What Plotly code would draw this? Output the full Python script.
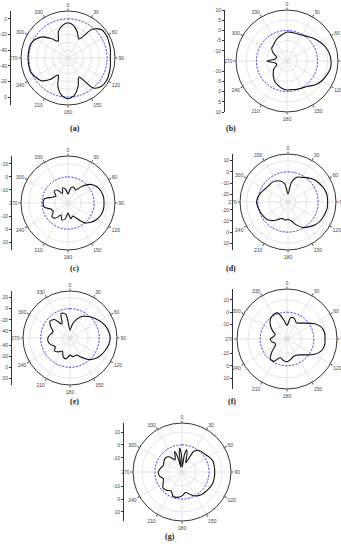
import plotly.graph_objects as go

W, H = 341, 550

# ---------------- data (dB values) ----------------
angles10 = list(range(0, 360, 10))
angle_ticks = list(range(0, 360, 30))
angle_labels = [str(v) for v in angle_ticks]

theta_a = angles10
r_a = [-5, -8, -15, -22, -2, 6, 7, 6, 5, 4, 5, 6, 7, 6, 0, -22, -12, -2,
       2, -2, -12, -25, -14, -5, -2, 1, 1, 1, 1, 1, -2, -8, -18, -25, -14, -8]

theta_b = angles10
r_b = [-0.8, -0.8, -0.8, -0.3, 0.7, 2.2, 3.6, 5.1, 6.1, 6.6, 6.6, 5.6, 4.6, 3.1, 1.2, 0.2, -0.3, -0.8,
       -0.8, -1.3, -2.3, -3.2, -4.7, -6.2, -7.6, -9.6, -9.1, -5.2, -9.1, -9.6, -7.2, -5.2, -4.7, -3.7, -2.7, -1.8]

theta_c = angles10
r_c = [-13.1, -8.5, -7, -8.5, -3.2, 2.2, 5.3, 6.8, 7.6, 7.6, 7.6, 6.8, 5.3, 3, -0.1, -6.2, -9.3, -7.7,
       -12.3, -7.7, -6.2, -9.3, -4.7, -3.9, -7, -6.2, -1.6, -0.9, -1.6, -7, -9.3, -6.2, -7, -11.6, -7.7, -9.3]

theta_d = angles10
r_d = [-19.7, -8.8, -3.4, -1.5, 1.2, 3.9, 5.7, 7.5, 8.5, 8.5, 8.5, 7.5, 6.6, 4.8, 2.1, -0.6, -5.2, -9.7,
       -11.5, -10.6, -11.5, -8.8, -5.2, -2.5, -1.5, -0.6, 0.3, 1.2, 0.3, -1.5, -3.4, -4.3, -4.3, -5.2, -7, -10.6]

theta_e = angles10
r_e = [-38.5, -27.5, -16.6, -7.5, -2.1, 3.4, 8.8, 14.3, 17.9, 19.7, 17.9, 14.3, 10.6, 5.2, -2.1, -13, -20.3, -18.5,
       -22.1, -14.8, -16.6, -25.7, -20.3, -16.6, -22.1, -16.6, -13, -13, -16.6, -20.3, -13, -5.7, -9.4, -23.9, -5.7, -9.4]

theta_f = angles10
r_f = [-10.8, -4.2, -4.2, -6.7, -5, -1.7, 3.3, 7.5, 9.2, 9.2, 9.2, 7.5, 3.3, -1.7, -5, -6.7, -6.7, -5,
       -3.3, -4.2, -5.8, -0.8, -0.8, -5.8, -10.8, -11.7, -9.2, -8.3, -10.8, -11.7, -8.3, -4.2, -0.8, 0.8, 0.8, -5.8]

theta_g = [0, 3, 8, 12, 16, 22, 30, 40, 50, 60, 70, 80, 90, 100, 110, 120, 130, 140, 150, 160, 170,
           180, 190, 200, 210, 220, 230, 240, 250, 260, 270, 280, 290, 300, 310, 320, 330, 335,
           340, 344, 348, 352, 355, 358]
r_g = [-13.3, -17.2, -7.2, -3.3, -7.2, -13.3, -2.5, 0.5, 1.3, 2.8, 4.4, 4.4, 4.4, 4.4, 4.4, 3.6, 2.8, 2.1,
       0.5, -2.5, -4.8, -2.5, -1, -1, -4.1, -2.5, -1.8, -4.1, -5.6, -3.3, -2.5, -4.1, -5.6, -4.8, -4.1,
       -5.6, -10.2, -8.7, -4.1, -8.7, -17.2, -5.6, -2.5, -7.2]

ref_level = 0  # blue dashed reference circle (dB)

range_a, range_b, range_c, range_d = (-50, 10), (-15, 10), (-20, 16), (-27, 16)
range_e, range_f, range_g = (-53, 32), (-22, 19), (-21, 17)

grid_a, grid_b, grid_c, grid_d = [-40, -30, -20, -10, 0], [-10, -5, 0, 5], [-10, 0, 10], [-20, -10, 0, 10]
grid_e, grid_f, grid_g = [-40, -20, 0, 20], [-20, -10, 0, 10], [-20, -10, 0, 10]

yticks_a, yticks_b, yticks_c, yticks_d = [0, -20, -40], [10, 5, 0, -5, -10], [10, 0, -10], [10, 0, -10, -20]
yticks_e, yticks_f, yticks_g = [20, 0, -20, -40], [10, 0, -10], [10, 0, -10]

panel_labels = ["(a)", "(b)", "(c)", "(d)", "(e)", "(f)", "(g)"]

# ---------------- geometry (pixels) ----------------
panels = [
    dict(th=theta_a, r=r_a, rng=range_a, grid=grid_a, yt=yticks_a, c=(68, 58), R=47, ax=11, lab=(68, 122)),
    dict(th=theta_b, r=r_b, rng=range_b, grid=grid_b, yt=yticks_b, c=(287, 61), R=51, ax=225, lab=(238, 122)),
    dict(th=theta_c, r=r_c, rng=range_c, grid=grid_c, yt=yticks_c, c=(68, 203), R=47, ax=12, lab=(68, 268)),
    dict(th=theta_d, r=r_d, rng=range_d, grid=grid_d, yt=yticks_d, c=(288, 202), R=48, ax=233, lab=(238, 268)),
    dict(th=theta_e, r=r_e, rng=range_e, grid=grid_e, yt=yticks_e, c=(70, 338), R=47, ax=12, lab=(68, 408)),
    dict(th=theta_f, r=r_f, rng=range_f, grid=grid_f, yt=yticks_f, c=(287, 339), R=50, ax=233, lab=(238, 408)),
    dict(th=theta_g, r=r_g, rng=range_g, grid=grid_g, yt=yticks_g, c=(182, 472), R=49, ax=124, lab=(170, 543)),
]

fig = go.Figure()
layout = dict(width=W, height=H, margin=dict(l=0, r=0, t=0, b=0, autoexpand=False),
              paper_bgcolor="white", plot_bgcolor="white", showlegend=False,
              template="none", annotations=[], font=dict(color="#333"))

circle_theta = list(range(0, 361, 4))

for i, p in enumerate(panels):
    k = "" if i == 0 else str(i + 1)
    cx, cy = p["c"]
    R = p["R"]
    xd = [(cx - R) / W, (cx + R) / W]
    yd = [(H - cy - R) / H, (H - cy + R) / H]
    lo, hi = p["rng"]
    layout["polar" + k] = dict(
        domain=dict(x=xd, y=yd),
        bgcolor="white",
        angularaxis=dict(rotation=90, direction="clockwise", tickmode="array",
                         tickvals=angle_ticks, ticktext=angle_labels,
                         tickfont=dict(size=5, color="#444", family="Liberation Sans"),
                         showline=True, linecolor="#333", linewidth=1,
                         ticks="outside", ticklen=2, tickcolor="#555",
                         gridcolor="#d4d4d4", gridwidth=0.6),
        radialaxis=dict(range=[lo, hi], tickmode="array", tickvals=p["grid"],
                        showticklabels=False, ticks="", showline=False,
                        gridcolor="#d4d4d4", gridwidth=0.6),
    )
    fig.add_trace(go.Scatterpolar(theta=circle_theta, r=[ref_level] * len(circle_theta),
                                  mode="lines", line=dict(color="#3a3aff", width=0.9, dash="2px,1.5px"),
                                  subplot="polar" + k, hoverinfo="skip"))
    fig.add_trace(go.Scatterpolar(theta=list(p["th"]) + [p["th"][0]], r=list(p["r"]) + [p["r"][0]],
                                  mode="lines", line=dict(color="#111", width=1.1, shape="spline", smoothing=0.8),
                                  subplot="polar" + k))
    # left vertical scale
    span = hi - lo
    tv, tt = [], []
    for v in p["yt"]:
        tv += [v - lo, -(v - lo)]
        tt += [str(v), str(v)]
    xa = p["ax"] / W
    layout["xaxis" + k] = dict(domain=[xa, min(xa + 0.005, 1)], visible=False, range=[0, 1])
    layout["yaxis" + k] = dict(domain=yd, range=[-span, span], anchor="x" + k,
                               tickmode="array", tickvals=tv, ticktext=tt,
                               tickfont=dict(size=5, color="#444", family="Liberation Sans"),
                               showline=True, linecolor="#333", linewidth=1,
                               ticks="outside", ticklen=2, tickcolor="#333",
                               showgrid=False, zeroline=False, automargin=False)
    fig.add_trace(go.Scatter(x=[0.5], y=[0], mode="markers", marker=dict(opacity=0),
                             xaxis="x" + k, yaxis="y" + k, hoverinfo="skip"))
    lx, ly = p["lab"]
    layout["annotations"].append(dict(x=lx / W, y=1 - ly / H, xref="paper", yref="paper",
                                      text="<b>" + panel_labels[i] + "</b>", showarrow=False,
                                      font=dict(size=8, color="#222", family="Liberation Serif")))

fig.update_layout(**layout)
fig.write_html("out.html", config={"displayModeBar": False, "staticPlot": True},
               post_script="document.body.style.margin='0';document.body.style.overflow='hidden';"
                           "document.documentElement.style.overflow='hidden';")
